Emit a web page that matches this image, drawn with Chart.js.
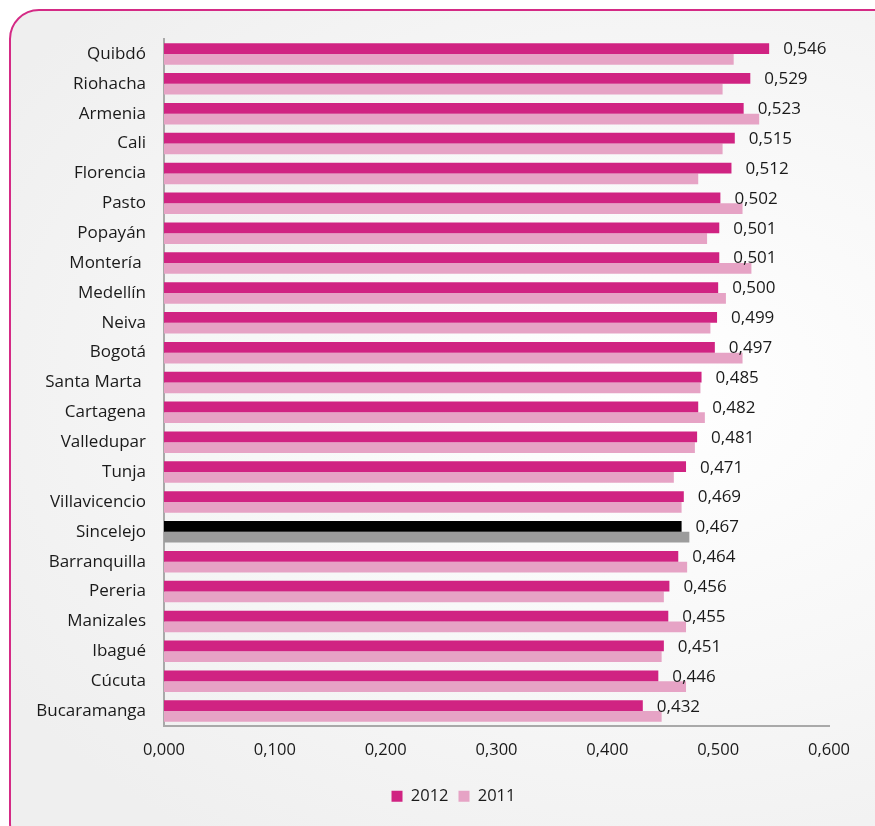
<!DOCTYPE html>
<html>
<head>
<meta charset="utf-8">
<script src="https://cdn.jsdelivr.net/npm/chart.js@4.4.0/dist/chart.umd.min.js"></script>
<style>
  html, body { margin: 0; padding: 0; background: #ffffff; }
  #wrap { position: relative; width: 875px; height: 826px; overflow: hidden; }
  #frame {
    position: absolute; left: 9px; top: 9px; width: 900px; height: 840px;
    border: 2.5px solid #d42a85; border-radius: 30px;
    background: radial-gradient(ellipse at 72% 45%, #ffffff 0%, #f7f7f7 45%, #efefef 85%);
  }
  #salesChart { position: absolute; left: 0; top: 0; }
</style>
</head>
<body>
<div id="wrap">
  <div id="frame"></div>
  <canvas id="salesChart" width="875" height="826"></canvas>
</div>
<script>
const cities = ['Quibdó', 'Riohacha', 'Armenia', 'Cali', 'Florencia', 'Pasto', 'Popayán', 'Montería ',
    'Medellín', 'Neiva', 'Bogotá', 'Santa Marta ', 'Cartagena', 'Valledupar', 'Tunja', 'Villavicencio',
    'Sincelejo', 'Barranquilla', 'Pereria', 'Manizales', 'Ibagué', 'Cúcuta', 'Bucaramanga'];
const values2012 = [0.546, 0.529, 0.523, 0.515, 0.512, 0.502, 0.501, 0.501, 0.500, 0.499, 0.497, 0.485,
    0.482, 0.481, 0.471, 0.469, 0.467, 0.464, 0.456, 0.455, 0.451, 0.446, 0.432];
const values2011 = [0.514, 0.504, 0.537, 0.504, 0.482, 0.522, 0.490, 0.530, 0.507, 0.493, 0.522, 0.484,
    0.488, 0.479, 0.460, 0.467, 0.474, 0.472, 0.451, 0.471, 0.449, 0.471, 0.449];
const xTicks = [0, 0.1, 0.2, 0.3, 0.4, 0.5, 0.6];
const highlight = 'Sincelejo';

const fmt = v => v.toFixed(3).replace('.', ',');
const FONT = "'Open Sans', 'DejaVu Sans', sans-serif";

// 2012 values written right of each bar
const valueLabels = {
    id: 'valueLabels',
    afterLayout(chart) {
        // legend sits a bit right of centre in the original
        chart.legend.left += 39;
        chart.legend.right += 39;
    },
    afterDatasetsDraw(chart) {
        const ctx = chart.ctx;
        const meta = chart.getDatasetMeta(0);
        ctx.save();
        ctx.font = `17px ${FONT}`;
        ctx.fillStyle = '#1a1a1a';
        ctx.textAlign = 'left';
        ctx.textBaseline = 'middle';
        meta.data.forEach((bar, i) => ctx.fillText(fmt(values2012[i]), bar.x + 14, bar.y + 1));
        ctx.restore();
    }
};

const ctx = document.getElementById('salesChart').getContext('2d');
new Chart(ctx, {
    type: 'bar',
    data: {
        labels: cities,
        datasets: [
            {
                label: '2012',
                data: values2012,
                backgroundColor: cities.map(c => c === highlight ? '#000000' : '#d02382'),
                barPercentage: 1,
                categoryPercentage: 0.72
            },
            {
                label: '2011',
                data: values2011,
                backgroundColor: cities.map(c => c === highlight ? '#9c9c9c' : '#e6a3c5'),
                barPercentage: 1,
                categoryPercentage: 0.72
            }
        ]
    },
    options: {
        indexAxis: 'y',
        responsive: false,
        animation: false,
        layout: { padding: { top: 39, right: 46, bottom: 11.5, left: 0 } },
        scales: {
            x: {
                min: 0, max: 0.6,
                afterBuildTicks: s => { s.ticks = xTicks.map(v => ({ value: v })); },
                afterFit: s => { s.height = 52; },
                grid: { display: false, drawTicks: false },
                border: { display: true, color: '#a9a9a9', width: 2 },
                ticks: { padding: 14, color: '#1a1a1a', font: { family: FONT, size: 16.5 }, callback: v => fmt(v) }
            },
            y: {
                afterFit: s => { s.width = 164; },
                grid: { display: false, drawTicks: false },
                border: { display: true, color: '#a9a9a9', width: 2 },
                ticks: { padding: 18, color: '#1a1a1a', autoSkip: false, font: { family: FONT, size: 17 } }
            }
        },
        plugins: {
            legend: {
                position: 'bottom',
                labels: { boxWidth: 11, boxHeight: 11, padding: 10, color: '#1a1a1a', font: { family: FONT, size: 16.5 } }
            },
            tooltip: { enabled: false }
        }
    },
    plugins: [valueLabels]
});
</script>
</body>
</html>
